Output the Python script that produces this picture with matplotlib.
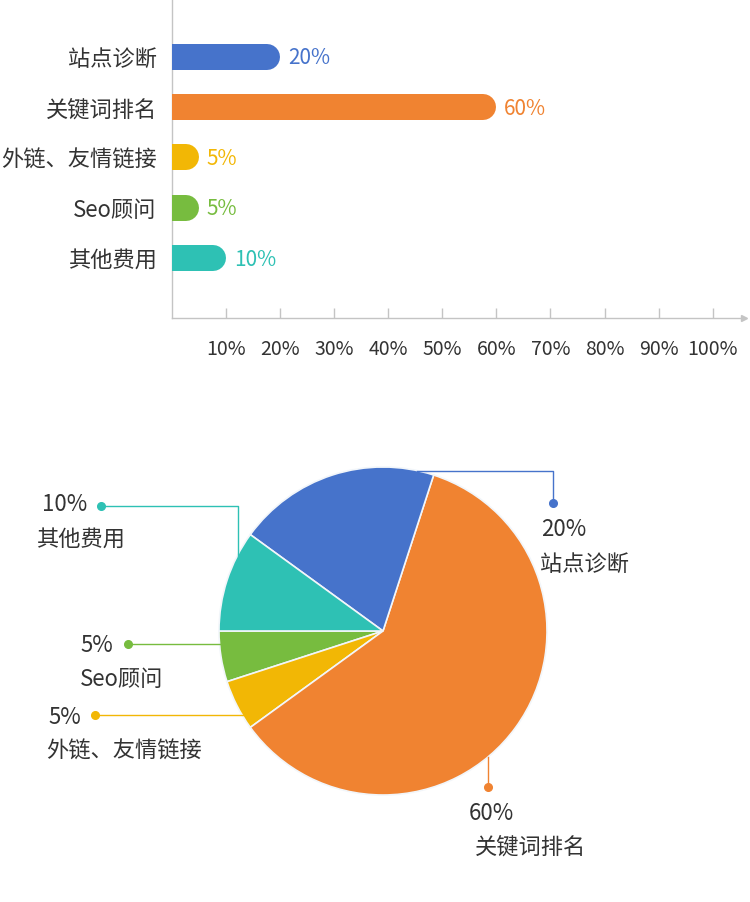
import matplotlib
matplotlib.use("Agg")
import matplotlib.pyplot as plt

plt.rcParams['font.family'] = ['Noto Sans CJK SC', 'DejaVu Sans']

# data
categories = ['站点诊断', '关键词排名', '外链、友情链接', 'Seo顾问', '其他费用']
shares = [20, 60, 5, 5, 10]
colors = ['#4673cb', '#f08331', '#f2b705', '#77bc3f', '#2ec1b4']
tick_values = [10, 20, 30, 40, 50, 60, 70, 80, 90, 100]
tick_labels = [f'{v}%' for v in tick_values]

# pie goes counter clockwise from 9 o'clock
pie_order = [3, 2, 1, 0, 4]

TEXT = '#333333'
GRID = '#c4c4c4'
W, H = 750, 902

fig = plt.figure(figsize=(W / 100, H / 100), dpi=100)


def fx(px):
    return px / W


def fy(py):
    return 1 - py / H


# ---- bar chart ----
ax_left, ax_right, ax_bottom = 172, 744, 318
ax = fig.add_axes([fx(ax_left), fy(ax_bottom), (ax_right - ax_left) / W, ax_bottom / H])
xmax = 105.8
ax.set_xlim(0, xmax)
ax.set_ylim(5.19, -1.13)

bar_px = 26
cap = (bar_px / 2) * xmax / (ax_right - ax_left)
for i, (v, c) in enumerate(zip(shares, colors)):
    ax.plot([0, v - cap], [i, i], color=c, lw=bar_px * 0.72,
            solid_capstyle='round', zorder=3)
    ax.text(v + 1.45, i + 0.03, f'{v}%', color=c, fontsize=15, va='center', ha='left')

ax.set_yticks(range(len(categories)))
ax.set_yticklabels(categories)
ax.tick_params(axis='y', length=0, pad=11, labelsize=16, labelcolor=TEXT)
ax.set_xticks(tick_values)
ax.set_xticklabels(tick_labels)
ax.tick_params(axis='x', direction='in', length=7, width=1, color=GRID,
               pad=15, labelsize=14, labelcolor=TEXT)
for s in ['top', 'right']:
    ax.spines[s].set_visible(False)
for s in ['left', 'bottom']:
    ax.spines[s].set_color(GRID)
    ax.spines[s].set_linewidth(1)
ax.plot(1, 0, marker='>', ms=5, color=GRID, transform=ax.transAxes, clip_on=False)

# ---- pie chart ----
cx, cy, rad = 383, 631, 164
pax = fig.add_axes([fx(cx - rad), fy(cy + rad), 2 * rad / W, 2 * rad / H])
pax.pie([shares[k] for k in pie_order], colors=[colors[k] for k in pie_order],
        startangle=180, counterclock=True, radius=1,
        wedgeprops=dict(edgecolor='#f2f6fa', linewidth=1.2))
pax.set_xlim(-1, 1)
pax.set_ylim(-1, 1)

# leader lines (pixel layout) and label positions
leaders = {
    0: [(417, 471), (553, 471), (553, 503)],
    4: [(238, 556), (238, 506), (101, 506)],
    3: [(221, 644), (128, 644)],
    2: [(243, 715), (95, 715)],
    1: [(488, 757), (488, 787)],
}
label_pos = {
    0: ((541, 530), (540, 564)),
    4: ((42, 505), (36, 539)),
    3: ((80, 646), (80, 679)),
    2: ((48, 717), (46, 751)),
    1: ((469, 814), (475, 847)),
}

for k, path in leaders.items():
    xs = [(p[0] - cx) / rad for p in path]
    ys = [(cy - p[1]) / rad for p in path]
    pax.plot(xs, ys, color=colors[k], lw=1, clip_on=False)
    pax.plot(xs[-1], ys[-1], 'o', ms=5.5, color=colors[k], clip_on=False)
    (px1, py1), (px2, py2) = label_pos[k]
    fig.text(fx(px1), fy(py1), f'{shares[k]}%', fontsize=16, color=TEXT,
             ha='left', va='center')
    fig.text(fx(px2), fy(py2), categories[k], fontsize=16, color=TEXT,
             ha='left', va='center')

fig.savefig('out.png', dpi=100, facecolor='white')
